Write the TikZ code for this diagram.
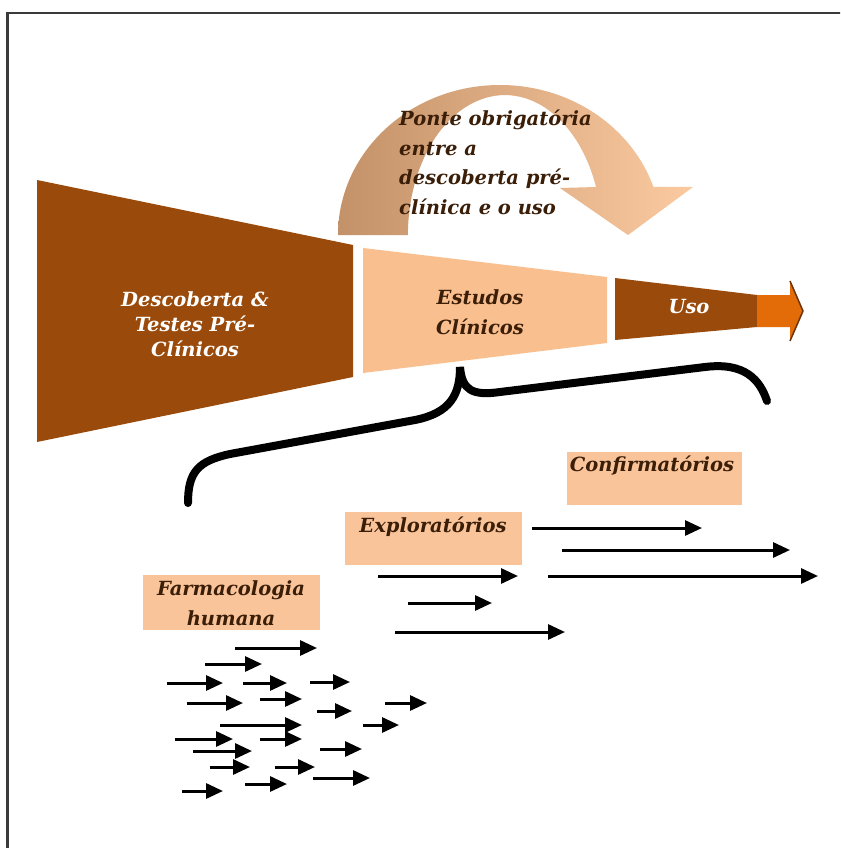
\documentclass[tikz,border=0pt]{standalone}
\usepackage{fontspec}
\setmainfont{DejaVu Serif}
\usetikzlibrary{arrows.meta}
\definecolor{rust}{HTML}{9A4B0B}
\definecolor{peach}{HTML}{FABF8F}
\definecolor{tagfill}{HTML}{FAC49A}
\definecolor{flame}{HTML}{E36C09}
\definecolor{inkbrown}{HTML}{3B1E08}
\definecolor{framegray}{HTML}{3A3A3A}
\definecolor{bridgeL}{RGB}{196,146,104}
\definecolor{bridgeR}{RGB}{251,202,160}
\tikzset{
  label/.style={font=\bfseries\itshape\fontsize{19.5}{29.5}\selectfont, align=center, inner sep=0pt},
  tag/.style={fill=tagfill, draw=none},
  arr/.style={-{Triangle[length=17pt,width=15pt]}, line width=3pt, black},
  brace/.style={line width=8pt, black, line cap=round}
}
\begin{document}
\begin{tikzpicture}[x=1pt,y=-1pt]
\useasboundingbox (0,0) rectangle (840,848);
\clip (0,0) rectangle (840,848);
\fill[white] (0,0) rectangle (840,848);
% outer frame (only its top and left edges are inside the page)
\draw[line width=2.5pt, framegray] (7.5,860) -- (7.5,13) -- (860,13);

% pipeline: discovery, clinical studies, use
\fill[rust] (37,180) -- (353,245) -- (353,377) -- (37,442) -- cycle;
\fill[peach] (363,248) -- (607,277) -- (607,343) -- (363,373) -- cycle;
\fill[rust] (615,278) -- (757,295) -- (757,327) -- (615,340) -- cycle;
\fill[flame] (757,295) -- (790,295) -- (790,281) -- (803,311) -- (790,341) -- (790,327) -- (757,327) -- cycle;
\draw[rust!70!black, line width=1.5pt, line join=round] (790,281) -- (803,311) -- (790,341);

\node[label, text=white] (disc) at (195,324) {Descoberta \&\\[-4.5pt]Testes Pré-\\[-4.5pt]Clínicos};
\node[label, text=inkbrown] (clin) at (480,312) {Estudos\\Clínicos};
\node[label, text=white] (uso) at (689,307) {Uso};

% curved bridge arrow over the clinical stage
\shade[left color=bridgeL, right color=bridgeR]
  (338,235) arc[start angle=180, end angle=341.3, x radius=162, y radius=150]
  -- (693,187) -- (628,235) -- (560,188) -- (596,187)
  arc[start angle=339.9, end angle=180, x radius=97, y radius=140] -- cycle;
\node[label, text=inkbrown, align=left, anchor=north west] (bridge) at (399,110)
  {Ponte obrigatória\\entre a\\descoberta pré-\\clínica e o uso};

% brace under the clinical stage
\coordinate (bl) at (188,503);
\coordinate (btip) at (460,367);
\coordinate (br) at (767,401);
\draw[brace] (bl) .. controls (188,472) and (198,461) .. (230,454)
  -- (415,420) .. controls (450,413) and (460,395) .. (btip)
  .. controls (462,390) and (472,396) .. (500,392)
  -- (705,367) .. controls (745,362) and (760,380) .. (br);

% phase labels
\fill[tag] (567,452) rectangle (742,505);
\node[label, text=inkbrown] (conf) at (652,466) {Confirmatórios};
\fill[tag] (345,512) rectangle (522,565);
\node[label, text=inkbrown] (expl) at (433,527) {Exploratórios};
\fill[tag] (143,575) rectangle (320,630);
\node[label, text=inkbrown] (farm) at (231,603) {Farmacologia\\humana};

% studies of each phase
\foreach \xa/\xb/\yy in {532/702/528, 562/790/550, 378/518/576, 548/818/576,
    408/492/603, 395/565/632,
    235/317/648, 205/262/664, 167/223/683, 243/287/683, 310/350/682,
    187/243/703, 260/302/699, 317/352/711, 385/427/703,
    220/302/725, 363/399/725, 175/233/739, 260/302/739,
    193/252/751, 320/362/749, 210/250/767, 275/315/767,
    245/287/784, 313/370/778, 182/223/791}
  \draw[arr] (\xa,\yy) -- (\xb,\yy);
\end{tikzpicture}
\end{document}
